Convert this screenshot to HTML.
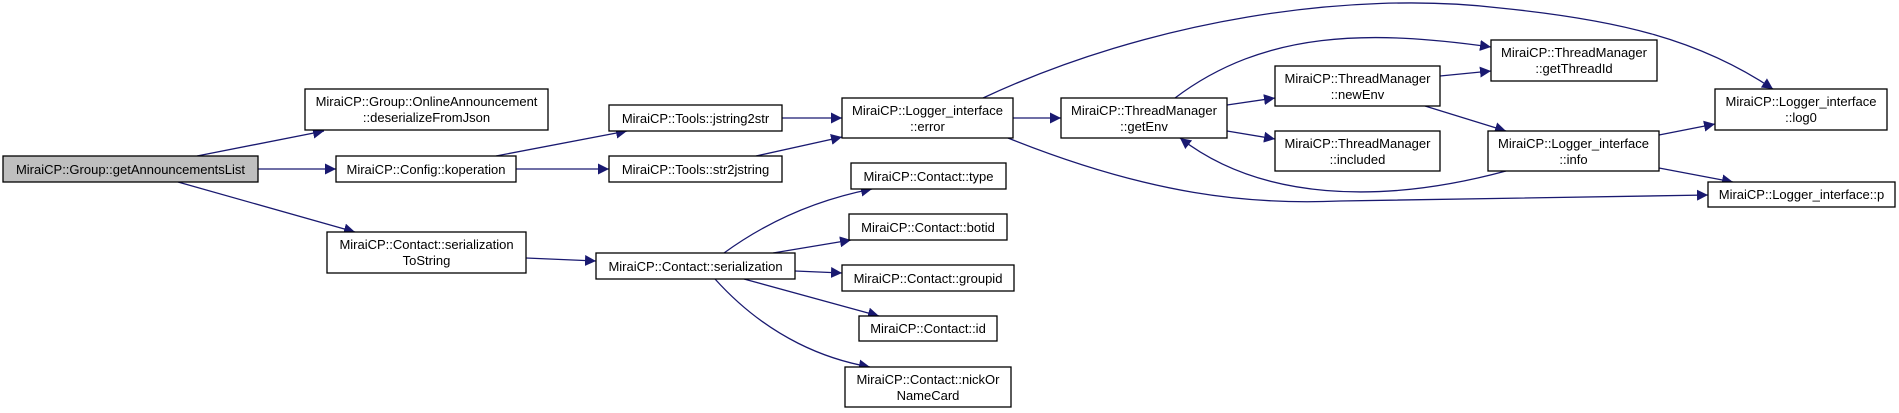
<!DOCTYPE html>
<html><head><meta charset="utf-8"><style>html,body{margin:0;padding:0;background:#fff}svg{display:block}</style></head>
<body>
<svg width="1899" height="413" viewBox="0 0 1899 413" xmlns="http://www.w3.org/2000/svg" font-family="Liberation Sans, Arial, sans-serif" font-size="13">
<defs><marker id="a" viewBox="0 0 10 10" refX="10" refY="5" markerWidth="11" markerHeight="11" markerUnits="userSpaceOnUse" orient="auto"><path d="M0,0 L10,5 L0,10 z" fill="#191970"/></marker></defs>
<g fill="none" stroke="#191970" stroke-width="1.3" marker-end="url(#a)">
<path d="M197,156 L324,131"/>
<path d="M258,169 L336,169"/>
<path d="M178,182 L355,232"/>
<path d="M496,156 L627,131"/>
<path d="M516,169 L609,169"/>
<path d="M782,118 L842,118"/>
<path d="M756,156 L842,137"/>
<path d="M526,258 L596,261"/>
<path d="M724,253 Q790,205 872,189"/>
<path d="M773,253 L851,240"/>
<path d="M795,271 L842,273"/>
<path d="M744,279 L879,316"/>
<path d="M715,279 C770,340 830,360 870,367"/>
<path d="M1013,118 L1061,118"/>
<path d="M983,98 C1150,20 1350,-10 1500,8 C1620,20 1700,40 1773,89"/>
<path d="M1008,138 C1150,195 1250,205 1340,201 L1708,195"/>
<path d="M1175,98 C1265,30 1370,30 1491,47"/>
<path d="M1227,105 L1275,98"/>
<path d="M1227,131 L1275,139"/>
<path d="M1440,76 L1491,71"/>
<path d="M1425,106 L1506,131"/>
<path d="M1506,171 C1380,205 1260,200 1180,138"/>
<path d="M1659,135 L1715,124"/>
<path d="M1659,168 L1733,182"/>
</g>
<g stroke="#000" stroke-width="1.3" fill="#fff">
<rect x="3" y="156" width="255" height="26" fill="#bfbfbf"/>
<rect x="305" y="89" width="243" height="41"/>
<rect x="336" y="156" width="180" height="26"/>
<rect x="327" y="232" width="199" height="41"/>
<rect x="609" y="105" width="173" height="26"/>
<rect x="609" y="156" width="173" height="26"/>
<rect x="842" y="98" width="171" height="40"/>
<rect x="596" y="253" width="199" height="26"/>
<rect x="851" y="163" width="155" height="26"/>
<rect x="849" y="214" width="158" height="26"/>
<rect x="842" y="265" width="172" height="26"/>
<rect x="859" y="316" width="138" height="25"/>
<rect x="845" y="367" width="166" height="40"/>
<rect x="1061" y="98" width="166" height="40"/>
<rect x="1275" y="66" width="165" height="40"/>
<rect x="1275" y="131" width="165" height="40"/>
<rect x="1491" y="40" width="166" height="41"/>
<rect x="1715" y="89" width="172" height="41"/>
<rect x="1488" y="131" width="171" height="40"/>
<rect x="1708" y="182" width="187" height="25"/>
</g>
<g fill="#000" text-anchor="middle" lengthAdjust="spacingAndGlyphs">
<text x="130.5" y="174">MiraiCP::Group::getAnnouncementsList</text>
<text x="426.5" y="106">MiraiCP::Group::OnlineAnnouncement</text>
<text x="426.5" y="122">::deserializeFromJson</text>
<text x="426" y="174">MiraiCP::Config::koperation</text>
<text x="426.5" y="249">MiraiCP::Contact::serialization</text>
<text x="426.5" y="265">ToString</text>
<text x="695.5" y="123">MiraiCP::Tools::jstring2str</text>
<text x="695.5" y="174">MiraiCP::Tools::str2jstring</text>
<text x="927.5" y="115">MiraiCP::Logger_interface</text>
<text x="927.5" y="131">::error</text>
<text x="695.5" y="271">MiraiCP::Contact::serialization</text>
<text x="928.5" y="181">MiraiCP::Contact::type</text>
<text x="928" y="232">MiraiCP::Contact::botid</text>
<text x="928" y="283">MiraiCP::Contact::groupid</text>
<text x="928" y="333">MiraiCP::Contact::id</text>
<text x="928" y="384">MiraiCP::Contact::nickOr</text>
<text x="928" y="400">NameCard</text>
<text x="1144" y="115">MiraiCP::ThreadManager</text>
<text x="1144" y="131">::getEnv</text>
<text x="1357.5" y="83">MiraiCP::ThreadManager</text>
<text x="1357.5" y="99">::newEnv</text>
<text x="1357.5" y="148">MiraiCP::ThreadManager</text>
<text x="1357.5" y="164">::included</text>
<text x="1574" y="57">MiraiCP::ThreadManager</text>
<text x="1574" y="73">::getThreadId</text>
<text x="1801" y="106">MiraiCP::Logger_interface</text>
<text x="1801" y="122">::log0</text>
<text x="1573.5" y="148">MiraiCP::Logger_interface</text>
<text x="1573.5" y="164">::info</text>
<text x="1801.5" y="199">MiraiCP::Logger_interface::p</text>
</g>
</svg>
</body></html>
